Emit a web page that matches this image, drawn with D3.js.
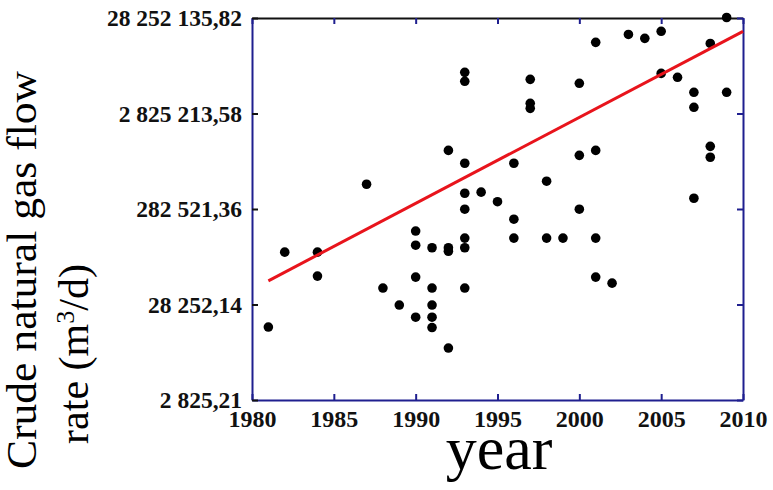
<!DOCTYPE html>
<html>
<head>
<meta charset="utf-8">
<script src="https://cdn.jsdelivr.net/npm/d3@7"></script>
<style>
  html, body { margin: 0; padding: 0; background: #fff; }
  svg { display: block; }
</style>
</head>
<body>
<svg id="chart" width="773" height="490"></svg>
<script>
// ---- data ----
const years = [1981,1982,1984,1984,1987,1988,1989,1990,1990,1990,1990,1991,1991,1991,1991,1991,
  1992,1992,1992,1992,1993,1993,1993,1993,1993,1993,1993,1993,1994,1995,1996,1996,1996,
  1997,1997,1997,1998,1998,1999,2000,2000,2000,2001,2001,2001,2001,2002,2003,2004,2005,2005,
  2006,2007,2007,2007,2008,2008,2008,2009,2009];
const flowRates = [16400,99800,99800,56000,513000,42000,27900,166000,118000,54700,20800,111000,42000,27900,20800,16200,
  1160000,111000,102000,9890,7620000,6140000,851000,413000,281000,140000,111000,42000,424000,337000,851000,221000,140000,
  6440000,3610000,3200000,552000,140000,140000,5850000,1030000,281000,15700000,1160000,140000,54700,47300,19000000,17300000,20500000,7430000,
  6760000,4710000,3280000,366000,15300000,1280000,984000,28600000,4710000];
const trendYears = [1981, 2010];
const trendRates = [50000, 20500000];
const xTicks = [1980,1985,1990,1995,2000,2005,2010];
const yTicks = [2825.21, 28252.14, 282521.36, 2825213.58, 28252135.82];
const yTickLabels = ["2 825,21", "28 252,14", "282 521,36", "2 825 213,58", "28 252 135,82"];

// ---- layout ----
const pL = 252, pR = 743, pT = 18, pB = 400;
const frameColor = "#1f1f8f";
const svg = d3.select("#chart");

const x = d3.scaleLinear().domain([1980, 2010]).range([pL, pR]);
const y = d3.scaleLog().domain([2825.21, 28252135.82]).range([pB, pT]);

const font = "'Liberation Serif', 'Times New Roman', serif";

// axes
const xAxis = d3.axisBottom(x).tickValues(xTicks).tickFormat(d3.format("d"))
  .tickSizeInner(-6).tickSizeOuter(0).tickPadding(10);
const gx = svg.append("g").attr("transform", `translate(0,${pB})`).call(xAxis);
gx.selectAll("text").attr("font-family", font).attr("font-weight", "bold").attr("font-size", 24).attr("fill", "#111");

const xTop = d3.axisTop(x).tickValues(xTicks).tickFormat("").tickSizeInner(-6).tickSizeOuter(0);
const gxt = svg.append("g").attr("transform", `translate(0,${pT})`).call(xTop);

const yAxis = d3.axisLeft(y).tickValues(yTicks).tickFormat((d, i) => yTickLabels[i])
  .tickSizeInner(-6).tickSizeOuter(0).tickPadding(10);
const gy = svg.append("g").attr("transform", `translate(${pL},0)`).call(yAxis);
gy.selectAll("text").attr("font-family", font).attr("font-weight", "bold").attr("font-size", 23.5).attr("fill", "#111");

const yRight = d3.axisRight(y).tickValues(yTicks).tickFormat("").tickSizeInner(-6).tickSizeOuter(0);
const gyr = svg.append("g").attr("transform", `translate(${pR},0)`).call(yRight);

[gx, gxt, gy, gyr].forEach(g => {
  g.select(".domain").attr("stroke", frameColor).attr("stroke-width", 2);
  g.selectAll(".tick line").attr("stroke", frameColor).attr("stroke-width", 2);
});
gxt.select(".domain").attr("stroke", "#111");
gy.selectAll(".tick line").attr("stroke", "#111");

// points
svg.append("g").selectAll("circle")
  .data(years.map((yr, i) => ({ yr, v: flowRates[i] })))
  .join("circle")
  .attr("cx", d => x(d.yr))
  .attr("cy", d => y(d.v))
  .attr("r", 4.8)
  .attr("fill", "#000");

// trend line
svg.append("path")
  .datum(trendYears.map((yr, i) => ({ yr, v: trendRates[i] })))
  .attr("d", d3.line().x(d => x(d.yr)).y(d => y(d.v)))
  .attr("stroke", "#e8141c")
  .attr("stroke-width", 3)
  .attr("fill", "none");

// axis titles
svg.append("text")
  .attr("x", 499).attr("y", 469)
  .attr("text-anchor", "middle")
  .attr("font-family", font).attr("font-size", 62).attr("fill", "#000")
  .text("year");

svg.append("text")
  .attr("transform", "translate(36,270) rotate(-90)")
  .attr("text-anchor", "middle")
  .attr("font-family", font).attr("font-size", 42).attr("fill", "#000")
  .attr("textLength", 398).attr("lengthAdjust", "spacingAndGlyphs")
  .text("Crude natural gas flow");

const t2 = svg.append("text")
  .attr("transform", "translate(88,354) rotate(-90)")
  .attr("text-anchor", "middle")
  .attr("font-family", font).attr("font-size", 42).attr("fill", "#000");
t2.append("tspan").text("rate (m");
t2.append("tspan").attr("baseline-shift", "super").attr("font-size", 26).text("3");
t2.append("tspan").text("/d)");
</script>
</body>
</html>
